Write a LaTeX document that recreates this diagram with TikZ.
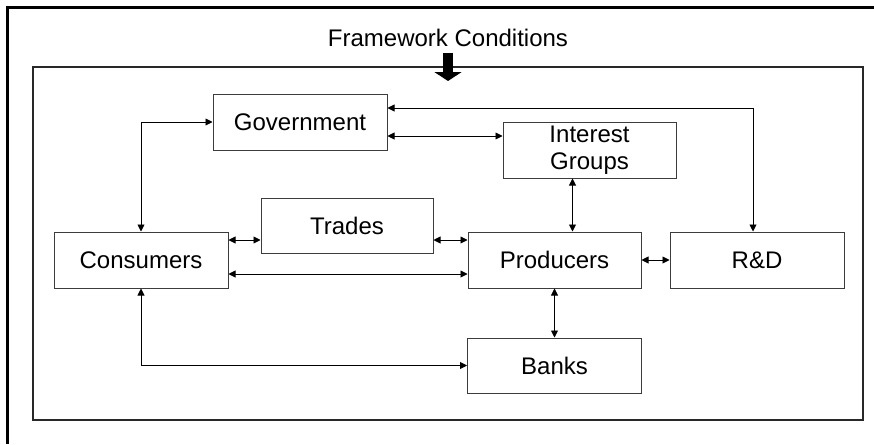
\documentclass[tikz,border=0pt]{standalone}
\usepackage{fontspec}
\setmainfont{Liberation Sans}
\usepackage{tikz}
\usetikzlibrary{positioning,arrows.meta}
\definecolor{boxline}{RGB}{60,60,60}
\definecolor{frameline}{RGB}{40,40,40}
\tikzset{
  box/.style={draw=boxline, line width=1pt, minimum width=174pt,
              minimum height=56pt, inner sep=0pt, align=center,
              font=\fontsize{24}{27}\selectfont},
  link/.style={{Triangle[length=7pt,width=7pt]}-{Triangle[length=7pt,width=7pt]}, line width=0.9pt},
  bigarrow/.style={line width=10pt, -{Triangle[length=9pt,width=27pt]}},
}

\begin{document}
\begin{tikzpicture}[x=1pt, y=-1pt]
  \useasboundingbox (0,0) rectangle (874,444);
  % frames
  \draw[line width=2.5pt] (874,7.5) -- (7.5,7.5) -- (7.5,444);
  \draw[frameline, line width=2pt] (33,67) rectangle (863,420);
  \node[inner sep=0pt, font=\fontsize{24}{27}\selectfont, anchor=base] (fw) at (448,47) {Framework Conditions};
  \draw[bigarrow] ([yshift=-6pt]fw.base) -- ++(0,28);

  % top
  \node[box] (gov) at (300,122) {Government};
  \node[box, minimum width=173pt] (ig) at (589.5,150) {Interest\\Groups};

  % middle
  \node[box, minimum width=172pt, minimum height=55pt] (trd) at (347,225.5) {Trades};
  \node[box] (con) at (141,260) {Consumers};
  \node[box, minimum width=173pt] (prod) at (554.5,260) {Producers};
  \node[box, right=28pt of prod] (rd) {R\&D};

  % bottom
  \node[box, minimum height=55pt, below=49pt of prod] (bank) {Banks};

  % links
  \draw[link] (con.north) |- (gov.west);
  \draw[link] ([yshift=14pt]gov.east) -| ([xshift=-4pt]rd.north);
  \draw[link] ([yshift=-14pt]gov.east) -- ([yshift=-14pt]gov.east -| ig.west);
  \draw[link] ([xshift=18pt]prod.north) -- ([xshift=18pt]prod.north |- ig.south);
  \draw[link] ([yshift=20pt]con.east) -- ([yshift=20pt]con.east -| trd.west);
  \draw[link] ([yshift=20pt]con.east -| trd.east) -- ([yshift=20pt]prod.west);
  \draw[link] ([yshift=-14pt]con.east) -- ([yshift=-14pt]prod.west);
  \draw[link] (prod) -- (rd);
  \draw[link] (prod.south) -- (bank.north);
  \draw[link] (con.south) |- (bank.west);
\end{tikzpicture}
\end{document}
